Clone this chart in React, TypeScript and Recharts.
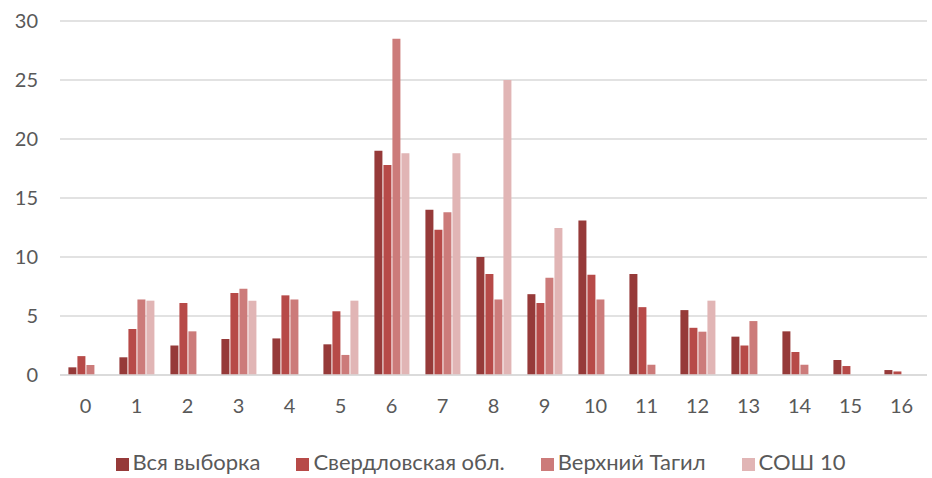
import { BarChart, Bar, XAxis, YAxis, CartesianGrid, Legend } from 'recharts'

const categories = ['0', '1', '2', '3', '4', '5', '6', '7', '8', '9', '10', '11', '12', '13', '14', '15', '16']
const allSample = [0.65, 1.5, 2.5, 3.05, 3.1, 2.6, 19.0, 14.0, 10.0, 6.85, 13.1, 8.55, 5.5, 3.25, 3.7, 1.27, 0.42]
const sverdlovsk = [1.6, 3.9, 6.1, 6.95, 6.75, 5.4, 17.8, 12.3, 8.55, 6.1, 8.5, 5.75, 4.0, 2.5, 1.95, 0.76, 0.3]
const vTagil = [0.85, 6.4, 3.7, 7.3, 6.4, 1.7, 28.5, 13.8, 6.4, 8.25, 6.4, 0.87, 3.67, 4.57, 0.87, 0, 0]
const school10 = [0, 6.3, 0, 6.3, 0, 6.3, 18.8, 18.8, 25.0, 12.45, 0, 0, 6.3, 0, 0, 0, 0]
const yTicks = [0, 5, 10, 15, 20, 25, 30]

const series = [
  { key: 'all', name: 'Вся выборка', color: '#963a39', values: allSample },
  { key: 'sverd', name: 'Свердловская обл.', color: '#b74a48', values: sverdlovsk },
  { key: 'tagil', name: 'Верхний Тагил', color: '#cc7b7a', values: vTagil },
  { key: 'sosh', name: 'СОШ 10', color: '#e1b5b5', values: school10 },
]

const data = categories.map((c, i) => {
  const row: Record<string, string | number> = { cat: c }
  series.forEach((s) => {
    row[s.key] = s.values[i]
  })
  return row
})

const font = 'Lato, "Liberation Sans", Arial, sans-serif'

export default function App() {
  return (
    <div style={{ position: 'absolute', left: 0, top: 0, width: 932, height: 478, background: '#fff', fontFamily: font }}>
      <BarChart
        width={932}
        height={478}
        data={data}
        margin={{ top: 21, right: 5, bottom: 4, left: 0 }}
        barCategoryGap="16.5%"
        barGap={1}
      >
        <CartesianGrid vertical={false} stroke="#d9d9d9" strokeWidth={1.5} />
        <XAxis
          dataKey="cat"
          axisLine={{ stroke: '#d9d9d9', strokeWidth: 1.5 }}
          tickLine={false}
          tickSize={0}
          tickMargin={24}
          height={73}
          tick={{ fontSize: 20, fill: '#595959', fontFamily: font }}
        />
        <YAxis
          domain={[0, 30]}
          ticks={yTicks}
          width={60}
          axisLine={false}
          tickLine={false}
          tickSize={0}
          tickMargin={22}
          tick={{ fontSize: 20, fill: '#595959', fontFamily: font }}
        />
        <Legend
          verticalAlign="bottom"
          height={26}
          iconType="square"
          iconSize={13}
          itemSorter={null}
          wrapperStyle={{ fontSize: 22, fontFamily: font, color: '#595959', paddingLeft: 35 }}
          formatter={(value) => <span style={{ color: '#595959', marginRight: 26 }}>{value}</span>}
        />
        {series.map((s) => (
          <Bar key={s.key} dataKey={s.key} name={s.name} fill={s.color} isAnimationActive={false} />
        ))}
      </BarChart>
    </div>
  )
}
